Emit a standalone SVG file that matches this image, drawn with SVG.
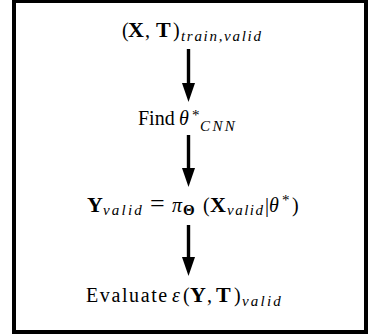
<svg xmlns="http://www.w3.org/2000/svg" width="369" height="334" viewBox="0 0 369 334">
<style>
.t{font-family:"Liberation Serif","Times New Roman",serif;font-size:20px;fill:#000}
.b{font-weight:bold;font-size:22px}
.bs{font-weight:bold;font-size:15px}
.i{font-style:italic}
.sub{font-style:italic;font-size:15px}
.sup{font-size:15px}
.frame{fill:#fff;stroke:#000;stroke-width:4}
.arr{stroke:#000;stroke-width:3.4;fill:none}
</style>
<defs>
<marker id="ah" markerUnits="userSpaceOnUse" markerWidth="19" markerHeight="13" viewBox="0 0 19 13" refX="1" refY="6.5" orient="auto">
<path d="M0,0 L19,6.5 L0,13 z" fill="#000"/>
</marker>
</defs>
<rect class="frame" x="14" y="1" width="352" height="331"/>
<g id="connectors">
<line class="arr" x1="188.5" y1="49" x2="188.5" y2="84" marker-end="url(#ah)"/>
<line class="arr" x1="188.5" y1="135" x2="188.5" y2="169" marker-end="url(#ah)"/>
<line class="arr" x1="188.5" y1="225" x2="188.5" y2="258" marker-end="url(#ah)"/>
</g>
<g id="n1">
<text class="t" y="37"><tspan x="122">(</tspan><tspan x="128" class="b">X</tspan><tspan x="145">,</tspan><tspan x="156" class="b">T</tspan><tspan x="173">)</tspan><tspan x="181" y="41" class="sub" letter-spacing="1.7">train,valid</tspan></text>
</g>
<g id="n2">
<text class="t" y="125"><tspan x="138">Find</tspan><tspan x="179" class="i">θ</tspan><tspan x="192" y="120" class="sup">*</tspan><tspan x="200" y="131" class="sub" letter-spacing="2.4">CNN</tspan></text>
</g>
<g id="n3">
<text class="t" y="211.5"><tspan x="87" class="b">Y</tspan><tspan x="103" y="215" class="sub" letter-spacing="2.2">valid</tspan><tspan x="150" y="211.5" font-size="26">=</tspan><tspan x="172" class="i">π</tspan><tspan x="183" y="215" class="bs">Θ</tspan><tspan x="203" y="211.5">(</tspan><tspan x="210" class="b">X</tspan><tspan x="227" y="215" class="sub" letter-spacing="1.5">valid</tspan><tspan x="265" y="211.5">|</tspan><tspan x="269" class="i">θ</tspan><tspan x="282" y="205" class="sup">*</tspan><tspan x="292" y="211.5">)</tspan></text>
</g>
<g id="n4">
<text class="t" y="302"><tspan x="86" letter-spacing="1.6">Evaluate</tspan><tspan x="172" class="i">ε</tspan><tspan x="183">(</tspan><tspan x="190" class="b">Y</tspan><tspan x="207">,</tspan><tspan x="216" class="b">T</tspan><tspan x="234">)</tspan><tspan x="242" y="306" class="sub" letter-spacing="2.2">valid</tspan></text>
</g>
</svg>
